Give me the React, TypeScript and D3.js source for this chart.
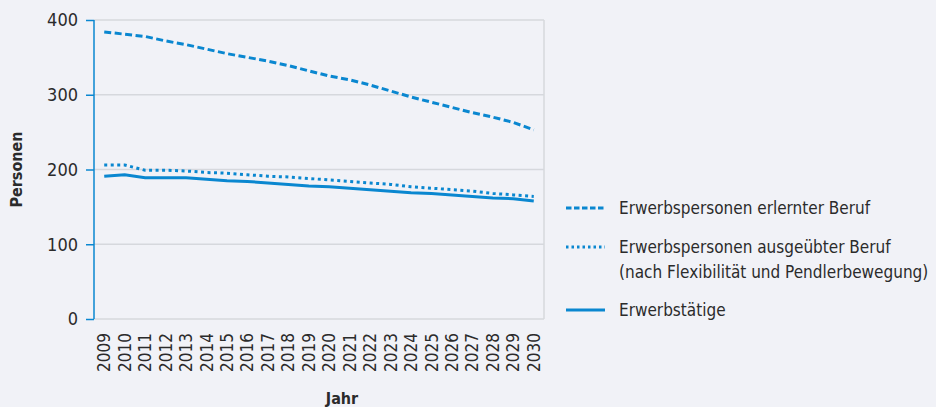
import { useEffect, useRef } from 'react';
import * as d3 from 'd3';

const years = d3.range(2009, 2031).map(String);
const erlernt = [384, 381, 378, 372, 367, 361, 355, 350, 345, 339, 332, 325, 320, 313, 305, 297, 290, 283, 276, 270, 263, 253];
const ausgeuebt = [206, 206, 199, 199, 198, 196, 195, 193, 191, 190, 188, 186, 184, 182, 180, 177, 175, 173, 171, 168, 166, 164];
const taetige = [191, 193, 189, 189, 189, 187, 185, 184, 182, 180, 178, 177, 175, 173, 171, 169, 168, 166, 164, 162, 161, 158];
const yTicks = [0, 100, 200, 300, 400];
const legendLabels = [
  ['Erwerbspersonen erlernter Beruf'],
  ['Erwerbspersonen ausgeübter Beruf', '(nach Flexibilität und Pendlerbewegung)'],
  ['Erwerbstätige'],
];

const BLUE = '#0a87d0';
const FONT = "'Liberation Sans Narrow', 'DejaVu Sans Condensed', 'Roboto', sans-serif";

export default function App() {
  const svgRef = useRef<SVGSVGElement>(null);

  useEffect(() => {
    if (!svgRef.current) return;
    const svg = d3.select(svgRef.current);
    svg.selectAll('*').remove();

    const width = 936, height = 407;
    const margin = { top: 20, left: 94, right: 392, bottom: 88 };
    const cw = width - margin.left - margin.right;
    const ch = height - margin.top - margin.bottom;

    svg.append('rect').attr('width', width).attr('height', height).attr('fill', '#f1f2f7');

    const g = svg.append('g').attr('transform', `translate(${margin.left},${margin.top})`);

    const x = d3.scalePoint().domain(years).range([0, cw]).padding(0.5);
    const y = d3.scaleLinear().domain([0, 400]).range([ch, 0]);

    // grid
    g.selectAll('line.grid')
      .data(yTicks)
      .join('line')
      .attr('x1', 0).attr('x2', cw)
      .attr('y1', d => y(d)).attr('y2', d => y(d))
      .attr('stroke', '#d6d8dd').attr('stroke-width', 1.5);
    g.append('line')
      .attr('x1', cw).attr('x2', cw).attr('y1', 0).attr('y2', ch)
      .attr('stroke', '#d6d8dd').attr('stroke-width', 1.5);

    // y axis
    const yAxis = g.append('g').call(d3.axisLeft(y).tickValues(yTicks).tickSize(8).tickPadding(8));
    yAxis.select('.domain').attr('stroke', BLUE).attr('stroke-width', 1.5).attr('d', `M0,${ch}V0`);
    yAxis.selectAll('.tick line').attr('stroke', BLUE).attr('stroke-width', 1.5);
    yAxis.selectAll('.tick text')
      .attr('fill', '#2b2b2b').style('font-family', FONT).style('font-size', '18px');

    // x labels
    g.selectAll('text.year')
      .data(years)
      .join('text')
      .attr('transform', d => `translate(${x(d)! + 6},${ch + 14}) rotate(-90)`)
      .attr('text-anchor', 'end')
      .attr('fill', '#2b2b2b')
      .style('font-family', FONT).style('font-size', '17px')
      .text(d => d);

    // axis titles
    svg.append('text')
      .attr('transform', `translate(22,${margin.top + ch / 2}) rotate(-90)`)
      .attr('text-anchor', 'middle')
      .attr('fill', '#2b2b2b').style('font-family', FONT).style('font-size', '16px').style('font-weight', 'bold')
      .text('Personen');
    svg.append('text')
      .attr('x', margin.left + cw / 2 + 23).attr('y', 404)
      .attr('text-anchor', 'middle')
      .attr('fill', '#2b2b2b').style('font-family', FONT).style('font-size', '16px').style('font-weight', 'bold')
      .text('Jahr');

    const series = [
      { values: erlernt, dash: '7,3.5', legendDash: '5.5,2.5' },
      { values: ausgeuebt, dash: '3,3.5', legendDash: '2.5,3' },
      { values: taetige, dash: null, legendDash: null },
    ];

    const line = d3.line<number>()
      .x((_, i) => x(years[i])!)
      .y(d => y(d));

    series.forEach(s => {
      g.append('path')
        .datum(s.values)
        .attr('fill', 'none')
        .attr('stroke', BLUE)
        .attr('stroke-width', 3)
        .attr('stroke-dasharray', s.dash)
        .attr('d', line);
    });

    // legend
    const legendY = [208, 247, 310];
    const lg = svg.append('g');
    series.forEach((s, i) => {
      lg.append('line')
        .attr('x1', 566).attr('x2', 605)
        .attr('y1', legendY[i]).attr('y2', legendY[i])
        .attr('stroke', BLUE).attr('stroke-width', 2.8)
        .attr('stroke-dasharray', s.legendDash);
      legendLabels[i].forEach((t, j) => {
        lg.append('text')
          .attr('x', 619).attr('y', legendY[i] + 6 + j * 25)
          .attr('fill', '#2b2b2b').style('font-family', FONT).style('font-size', '17px')
          .text(t);
      });
    });
  }, []);

  return (
    <svg ref={svgRef} width={936} height={407} style={{ display: 'block', position: 'absolute', left: 0, top: 0 }} />
  );
}
